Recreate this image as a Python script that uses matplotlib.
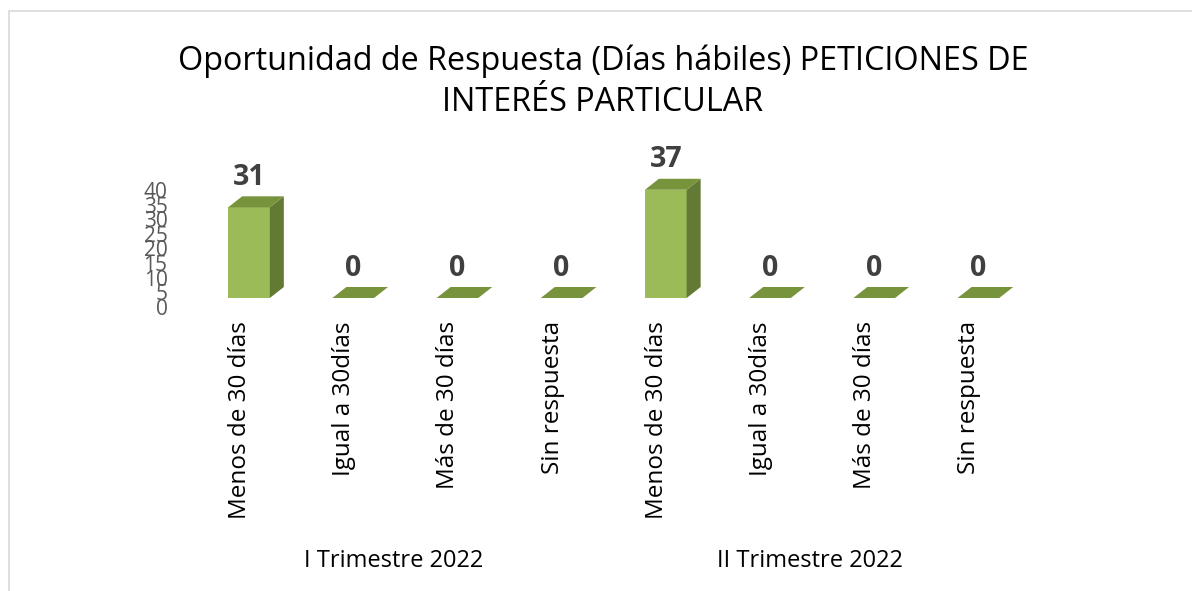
import matplotlib
matplotlib.use("Agg")
import matplotlib.pyplot as plt
from matplotlib.patches import Polygon, Rectangle
from matplotlib.transforms import ScaledTranslation

plt.rcParams['font.family'] = ['Open Sans', 'DejaVu Sans']

title = "Oportunidad de Respuesta (Días hábiles) PETICIONES DE\nINTERÉS PARTICULAR"
groups = ["I Trimestre 2022", "II Trimestre 2022"]
categories = ["Menos de 30 días", "Igual a 30días", "Más de 30 días", "Sin respuesta"]
values = [[31, 0, 0, 0], [37, 0, 0, 0]]
yticks = [0, 5, 10, 15, 20, 25, 30, 35, 40]

W, H = 1192, 591
fig = plt.figure(figsize=(W / 100, H / 100), dpi=100)

# border
fig.add_artist(Rectangle((9 / W, 1 - 1200 / H), 1.2, 1200 / H - 11 / H, transform=fig.transFigure,
                         fill=False, edgecolor="#D9D9D9", linewidth=1.2))

# axes geometry (pixels)
x0_px = 249.0
step = 104.2
ax_left, ax_right = 180, 1040
base_px, top_px = 298, 181
ax = fig.add_axes([ax_left / W, 1 - base_px / H, (ax_right - ax_left) / W, (base_px - top_px) / H])
ax.set_xlim((ax_left - x0_px) / step, (ax_right - x0_px) / step)
ax.set_ylim(0, 40)
for s in ax.spines.values():
    s.set_visible(False)
ax.set_xticks([])
ax.set_yticks(yticks)
ax.tick_params(axis='y', length=0, pad=9, labelsize=15, labelcolor="#595959")
off = ScaledTranslation(0, -9 / 100, fig.dpi_scale_trans)
for lab in ax.get_yticklabels():
    lab.set_transform(lab.get_transform() + off)

bw = 0.40
dx = 14 / step
dy = 11 / ((base_px - top_px) / 40)
front_c = "#9BBB59"
top_c = "#77933C"
side_c = "#627A34"

xs = []
vals = []
labels = []
for g, grp in enumerate(groups):
    for c, cat in enumerate(categories):
        xs.append(g * len(categories) + c)
        vals.append(values[g][c])
        labels.append(cat)

for x, v in zip(xs, vals):
    l, r = x - bw / 2, x + bw / 2
    if v > 0:
        ax.bar(x, v, width=bw, color=front_c, edgecolor="none", clip_on=False, zorder=2)
        ax.add_patch(Polygon([(r, 0), (r + dx, dy), (r + dx, v + dy), (r, v)], closed=True,
                             facecolor=side_c, edgecolor="none", clip_on=False, zorder=2))
    ax.add_patch(Polygon([(l, v), (r, v), (r + dx, v + dy), (l + dx, v + dy)], closed=True,
                         facecolor=top_c, edgecolor="none", clip_on=False, zorder=2))
    ax.annotate(f"{v}", (x, v), xytext=(0, 30 * 0.72), textcoords="offset points",
                ha="center", va="center", fontsize=20.5, fontweight="bold", color="#404040",
                annotation_clip=False)

for x, lab in zip(xs, labels):
    ax.annotate(lab, (x, 0), xytext=(-9 * 0.72, -23 * 0.72), textcoords="offset points",
                rotation=90, ha="center", va="top", fontsize=17.5, color="#000000",
                annotation_clip=False)

n = len(categories)
for g, grp in enumerate(groups):
    xc = g * n + (n - 1) / 2
    ax.annotate(grp, (xc, 0), xytext=(-12 * 0.72, -263 * 0.72), textcoords="offset points",
                ha="center", va="center", fontsize=17, color="#000000", annotation_clip=False)

fig.text(603 / W, 1 - 82 / H, title, ha="center", va="center", fontsize=23.3,
         linespacing=1.32, color="#000000")

fig.savefig("out.png", dpi=100)
